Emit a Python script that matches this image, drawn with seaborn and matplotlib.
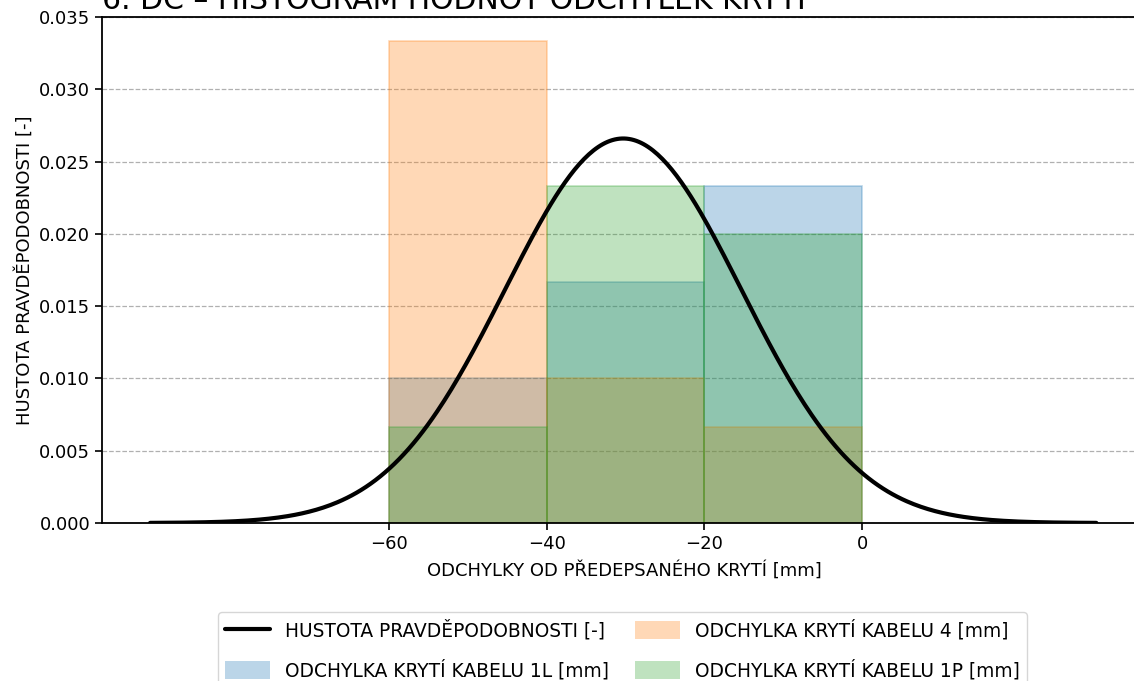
import numpy as np
import pandas as pd
import matplotlib
matplotlib.use("Agg")
import matplotlib.pyplot as plt
import seaborn as sns
from matplotlib.patches import Patch
from matplotlib.lines import Line2D
from matplotlib.colors import to_rgba

# ---- data ----
bin_edges = [-60, -40, -20, 0]
bin_centers = [-50, -30, -10]
counts_1L = [3, 5, 7]      # ODCHYLKA KRYTÍ KABELU 1L
counts_4 = [10, 3, 2]      # ODCHYLKA KRYTÍ KABELU 4
counts_1P = [2, 7, 6]      # ODCHYLKA KRYTÍ KABELU 1P
norm_mean = -30.3
norm_std = 15.0

labels = {
    "1L": "ODCHYLKA KRYTÍ KABELU 1L [mm]",
    "4": "ODCHYLKA KRYTÍ KABELU 4 [mm]",
    "1P": "ODCHYLKA KRYTÍ KABELU 1P [mm]",
}
curve_label = "HUSTOTA PRAVDĚPODOBNOSTI [-]"
title = "6. DC – HISTOGRAM HODNOT ODCHYLEK KRYTÍ"
xlabel = "ODCHYLKY OD PŘEDEPSANÉHO KRYTÍ [mm]"
ylabel = "HUSTOTA PRAVDĚPODOBNOSTI [-]"

sns.set_style("ticks")
plt.rcParams["font.family"] = ["DejaVu Sans"]
plt.rcParams["text.color"] = "black"
plt.rcParams["axes.labelcolor"] = "black"
plt.rcParams["xtick.color"] = "black"
plt.rcParams["ytick.color"] = "black"

fig = plt.figure(figsize=(11.34, 6.81), dpi=100)
ax = fig.add_axes([102 / 1134, 1 - 523 / 681, (1146 - 102) / 1134, (523 - 17) / 681])

colors = {"1L": "#1f77b4", "4": "#ff7f0e", "1P": "#2ca02c"}
series = [("1L", counts_1L), ("4", counts_4), ("1P", counts_1P)]
for key, cnts in series:
    df = pd.DataFrame({"x": bin_centers, "w": cnts})
    sns.histplot(data=df, x="x", weights="w", bins=bin_edges, stat="density",
                 color=colors[key], alpha=0.3, edgecolor=to_rgba(colors[key], 0.3),
                 linewidth=1.2, ax=ax, zorder=2)

xs = np.linspace(norm_mean - 4 * norm_std, norm_mean + 4 * norm_std, 400)
ys = np.exp(-0.5 * ((xs - norm_mean) / norm_std) ** 2) / (norm_std * np.sqrt(2 * np.pi))
sns.lineplot(x=xs, y=ys, color="black", linewidth=3, ax=ax, zorder=3)

ax.set_xlim(-96.4, 36.0)
ax.set_ylim(0, 0.035)
ax.set_xticks([-60, -40, -20, 0])
ax.set_yticks(np.arange(0, 0.0351, 0.005))
ax.yaxis.set_major_formatter(matplotlib.ticker.FormatStrFormatter("%.3f"))
ax.grid(axis="y", linestyle="--", color="#b0b0b0", linewidth=0.9)
ax.set_axisbelow(True)
ax.tick_params(labelsize=13, width=1.2, length=5)
for s in ax.spines.values():
    s.set_linewidth(1.3)
    s.set_color("black")

ax.set_xlabel(xlabel, fontsize=13, labelpad=6)
ax.set_ylabel(ylabel, fontsize=13)
ax.set_title(title, loc="left", fontsize=21.5, pad=6)

handles = [Line2D([0], [0], color="black", lw=3, label=curve_label)]
for key, _ in series:
    handles.append(Patch(facecolor=colors[key], alpha=0.3, edgecolor="none", label=labels[key]))
ax.legend(handles=handles, loc="upper center", bbox_to_anchor=(0.5 - 1.5 / 1044, -0.158),
          ncol=2, fontsize=13.4, frameon=True, handlelength=2.4, handleheight=1.1,
          labelspacing=1.05, columnspacing=1.4)

fig.savefig("out.png", dpi=100)
